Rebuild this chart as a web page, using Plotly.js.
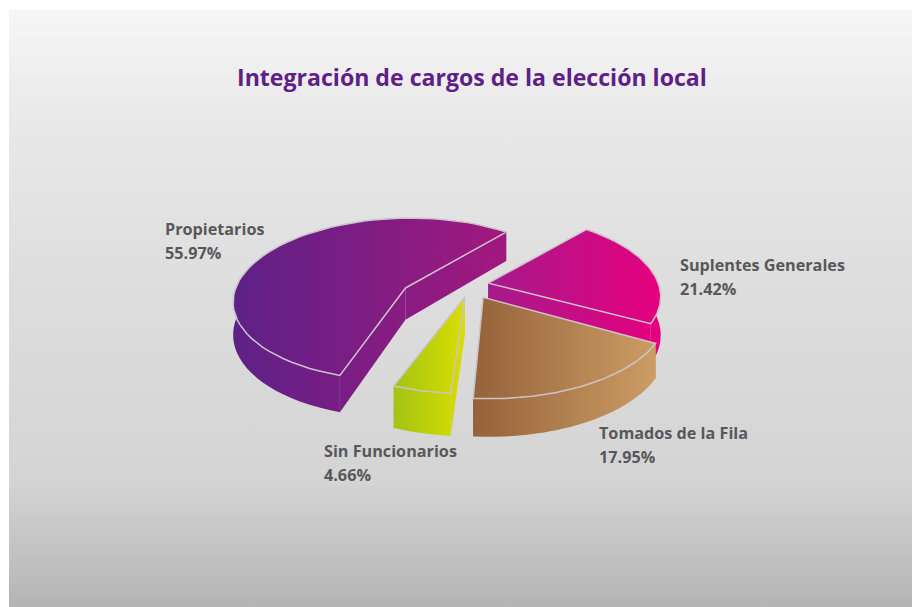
<!DOCTYPE html>
<html>
<head>
<meta charset="utf-8">
<script src="https://cdn.plot.ly/plotly-3.0.1.min.js"></script>
<style>
html,body{margin:0;padding:0;background:#fff;width:912px;height:607px;overflow:hidden}
#bg{position:absolute;left:9px;top:10px;width:903px;height:597px;
background:linear-gradient(to bottom,#f6f6f6 0%,#e9e9e9 18%,#dedede 45%,#d4d4d4 79%,#b4b4b4 100%)}
#chart{position:absolute;left:0;top:0;width:912px;height:607px}
</style>
</head>
<body>
<div id="bg"></div>
<div id="chart"></div>
<script>
// Data
const categories = ["Propietarios", "Sin Funcionarios", "Tomados de la Fila", "Suplentes Generales"];
const shares = [55.97, 4.66, 17.95, 21.42];
const shareLabels = ["55.97%", "4.66%", "17.95%", "21.42%"];
const chartTitle = "Integración de cargos de la elección local";

// Style / geometry
const startAngle = 40;
const drawOrder = [0, 3, 1, 2];
const apexX = [-0.26, 0.086, 0.19, 0.225];
const apexY = [-0.025, 0.086, 0.09, -0.086];
const sliceRadius = [0.99, 1, 1.04, 1];
const sliceTurn = [-1, 3, 2.5, 1.5];
const wallHeight = [32, 36, 32, 38];
const topLeft = ["#5d2187", "#a3c414", "#96623a", "#a51a8b"];
const topRight = ["#a2187f", "#d9de00", "#cb9d64", "#e6007e"];
const labelX = [163, 322, 597, 678];
const labelY = [229, 451, 433, 265];
const labelGap = 24;
const cx = 450, cy = 290, R = 172, kR = 81, persp = 0.14;

function project(x, y, z) {
  const s = 1 / (1 - persp * y);
  return [cx + R * x * s, cy + kR * y * s + z * s];
}
function polyTrace(pts, i, range, line) {
  return {
    type: "scatter", mode: line ? "lines" : "none",
    x: pts.map(p => p[0]), y: pts.map(p => p[1]),
    fill: "toself",
    fillgradient: {type: "horizontal", start: range[0], stop: range[1],
      colorscale: [[0, topLeft[i]], [1, topRight[i]]]},
    line: {color: "#cdc3cb", width: 1.5},
    hoverinfo: "skip", showlegend: false
  };
}
function arcWorld(i, a0, a1) {
  const pts = [], n = 60;
  for (let j = 0; j <= n; j++) {
    const a = (a0 + sliceTurn[i] + (a1 - a0) * j / n) * Math.PI / 180;
    pts.push([apexX[i] + sliceRadius[i] * Math.sin(a), apexY[i] - sliceRadius[i] * Math.cos(a)]);
  }
  return pts;
}
const angles = [];
let acc = startAngle;
shares.forEach(v => { const next = acc - v * 3.6; angles.push([acc, next]); acc = next; });

const traces = [];
drawOrder.forEach(i => {
  const wall = wallHeight[i];
  const arc = arcWorld(i, angles[i][0], angles[i][1]);
  const apex = [apexX[i], apexY[i]];
  const first = arc[0], last = arc[arc.length - 1];
  const arcTop = arc.map(p => project(p[0], p[1], 0));
  const arcBot = arc.map(p => project(p[0], p[1], wall)).reverse();
  const allX = arcTop.concat([project(apex[0], apex[1], 0)]).map(p => p[0]);
  const range = [Math.min.apply(null, allX), Math.max.apply(null, allX)];
  const face = (a, b) => [project(a[0], a[1], 0), project(b[0], b[1], 0), project(b[0], b[1], wall), project(a[0], a[1], wall)];
  const closeP = p => p.concat([p[0]]);
  traces.push(polyTrace(closeP(face(apex, first)), i, range, false));
  traces.push(polyTrace(closeP(face(apex, last)), i, range, false));
  traces.push(polyTrace(closeP(arcTop.concat(arcBot)), i, range, false));
  const top = [project(apex[0], apex[1], 0)].concat(arcTop);
  traces.push(polyTrace(closeP(top), i, range, true));
});

const annotations = [];
categories.forEach((c, i) => {
  [[c, labelY[i]], [shareLabels[i], labelY[i] + labelGap]].forEach(t => {
    annotations.push({
      text: t[0], x: labelX[i], y: t[1], xref: "x", yref: "y",
      xanchor: "left", yanchor: "middle", showarrow: false, align: "left",
      font: {family: "Open Sans, sans-serif", size: 16.2, color: "#58585a", weight: 700}
    });
  });
});
annotations.push({
  text: "<b>" + chartTitle + "</b>", x: 472, y: 77, xref: "x", yref: "y",
  xanchor: "center", yanchor: "middle", showarrow: false,
  font: {family: "Open Sans, sans-serif", size: 23.1, color: "#5e1f86"}
});

Plotly.newPlot("chart", traces, {
  width: 912, height: 607,
  margin: {l: 0, r: 0, t: 0, b: 0},
  paper_bgcolor: "rgba(0,0,0,0)", plot_bgcolor: "rgba(0,0,0,0)",
  xaxis: {range: [0, 912], visible: false, fixedrange: true},
  yaxis: {range: [607, 0], visible: false, fixedrange: true},
  annotations: annotations,
  showlegend: false
}, {displayModeBar: false, staticPlot: true});
</script>
</body>
</html>
